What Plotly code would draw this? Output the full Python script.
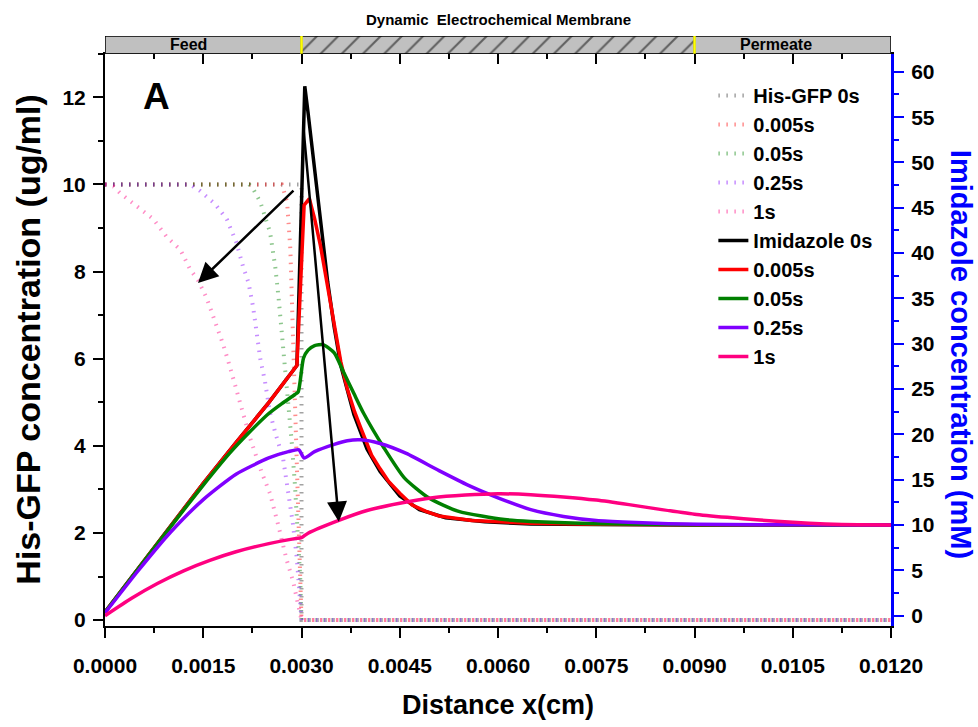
import plotly.graph_objects as go

# ---------------- data ----------------
# Imidazole concentration (mM), right axis
imid_0s_x = [0, 0.0005, 0.001, 0.0015, 0.002, 0.0025, 0.00293, 0.00305, 0.0031, 0.0032, 0.0033, 0.0034,
             0.0035, 0.0036, 0.0038, 0.004, 0.0042, 0.0045, 0.0048, 0.0052, 0.0058, 0.0065, 0.0075, 0.009, 0.012]
imid_0s_y = [0.4, 5.1, 9.9, 14.6, 19.1, 23.5, 27.6, 58.4, 55.5, 49.0, 42.5, 36.8,
             31.8, 27.6, 22.2, 18.4, 15.9, 13.2, 11.7, 10.8, 10.35, 10.12, 10.05, 10.0, 10.0]

imid_0005_x = [0, 0.0005, 0.001, 0.0015, 0.002, 0.0025, 0.00293, 0.00304, 0.00312, 0.0032, 0.00329, 0.00337,
               0.00345, 0.00352, 0.0036, 0.0037, 0.00381, 0.0039, 0.004, 0.00407, 0.0042, 0.00433, 0.0045,
               0.00469, 0.0049, 0.0051, 0.0056, 0.0065, 0.0075, 0.009, 0.012]
imid_0005_y = [0.4, 5.1, 9.9, 14.6, 19.1, 23.5, 27.6, 45.3, 46.0, 43.8, 40.8, 37.4,
               34.2, 31.0, 28.0, 25.0, 22.5, 20.8, 19.0, 17.7, 16.2, 14.8, 13.5,
               12.2, 11.5, 11.0, 10.5, 10.2, 10.08, 10.02, 10.0]

imid_005_x = [0, 0.0005, 0.001, 0.0015, 0.0019, 0.0022, 0.0025, 0.0027, 0.0029, 0.00295, 0.00303, 0.0031,
              0.0032, 0.00333, 0.0035, 0.00364, 0.0038, 0.00395, 0.00426, 0.00457, 0.00494, 0.0054, 0.0061,
              0.0065, 0.0075, 0.009, 0.012]
imid_005_y = [0.4, 5.1, 9.8, 14.4, 17.9, 20.2, 22.3, 23.4, 24.4, 24.7, 28.4, 29.3,
              29.8, 29.9, 29.0, 26.9, 24.5, 22.3, 18.5, 15.2, 13.0, 11.5, 10.6,
              10.4, 10.15, 10.03, 10.0]

imid_025_x = [0, 0.0005, 0.001, 0.0015, 0.002, 0.0025, 0.0028, 0.00296, 0.00304, 0.0032, 0.0035, 0.0037,
              0.0039, 0.0042, 0.0046, 0.0051, 0.0056, 0.006, 0.0065, 0.007, 0.0075, 0.008, 0.0086, 0.0095,
              0.0105, 0.012]
imid_025_y = [0.3, 4.9, 9.2, 12.8, 15.6, 17.4, 18.1, 18.3, 17.4, 18.1, 18.9, 19.3,
              19.4, 19.0, 17.9, 16.0, 14.2, 13.0, 11.7, 10.95, 10.5, 10.3, 10.15, 10.05,
              10.02, 10.0]

imid_1_x = [0, 0.0004, 0.0008, 0.0012, 0.0016, 0.002, 0.0025, 0.0029, 0.003, 0.0031, 0.0036, 0.004,
            0.0045, 0.005, 0.0055, 0.006, 0.0065, 0.007, 0.0075, 0.008, 0.0085, 0.009, 0.0095, 0.010,
            0.0105, 0.011, 0.0115, 0.012]
imid_1_y = [0.0, 1.9, 3.55, 4.95, 6.1, 7.05, 7.95, 8.5, 8.6, 9.1, 10.6, 11.6,
            12.4, 13.0, 13.3, 13.45, 13.35, 13.1, 12.75, 12.25, 11.7, 11.2, 10.85, 10.55,
            10.3, 10.12, 10.03, 10.0]

# His-GFP concentration (ug/ml), left axis
gfp_0s_x = [0, 0.003, 0.003, 0.012]
gfp_0s_y = [10, 10, 0, 0]

gfp_0005_x = [0, 0.0027, 0.00278, 0.00283, 0.00287, 0.0029, 0.00294, 0.00297, 0.003, 0.012]
gfp_0005_y = [10, 10, 9.6, 8.5, 6.5, 5.0, 3.2, 1.6, 0, 0]

gfp_005_x = [0, 0.0022, 0.00226, 0.00237, 0.00252, 0.0026, 0.00265, 0.0027, 0.00275, 0.0028, 0.00285,
             0.0029, 0.00294, 0.00298, 0.003, 0.012]
gfp_005_y = [10, 10, 9.9, 9.6, 8.9, 8.1, 7.4, 6.6, 5.9, 5.0, 4.1,
             3.1, 2.1, 1.0, 0, 0]

gfp_025_x = [0, 0.0013, 0.00145, 0.00168, 0.00186, 0.00201, 0.00211, 0.00219, 0.00226, 0.00232, 0.00237,
             0.00244, 0.00252, 0.0026, 0.00272, 0.0028, 0.00287, 0.00293, 0.00298, 0.003, 0.012]
gfp_025_y = [10, 10, 9.85, 9.55, 9.2, 8.65, 8.1, 7.75, 7.2, 6.6, 6.0,
             5.5, 4.75, 4.3, 3.7, 2.9, 2.2, 1.4, 0.5, 0, 0]

gfp_1_x = [0, 0.00013, 0.00023, 0.00048, 0.00074, 0.00094, 0.00115, 0.0013, 0.00142, 0.00155, 0.00168,
           0.00181, 0.00191, 0.00201, 0.00211, 0.00221, 0.00239, 0.00252, 0.00265, 0.00277, 0.00287,
           0.00298, 0.003, 0.012]
gfp_1_y = [10, 9.95, 9.8, 9.5, 9.2, 8.8, 8.5, 8.05, 7.8, 7.4, 6.85,
           6.3, 5.8, 5.25, 4.75, 4.2, 3.4, 2.9, 2.15, 1.4, 0.9,
           0.2, 0, 0]

gfp_names = ["His-GFP 0s", "0.005s", "0.05s", "0.25s", "1s"]
imid_names = ["Imidazole 0s", "0.005s", "0.05s", "0.25s", "1s"]

# axis titles
x_title = "Distance x(cm)"
y_left_title = "His-GFP concentration (ug/ml)"
y_right_title = "Imidazole concentration (mM)"

# membrane band regions
band_starts = [0, 0.003, 0.009]
band_widths = [0.003, 0.006, 0.003]
band_patterns = ["", "/", ""]
band_labels = ["Feed", "Permeate"]
band_label_x = [0.00128, 0.01024]
band_edges = [0.003, 0.009]

# ---------------- figure ----------------
FONT = "Liberation Sans, Arial, sans-serif"

gfp_colors = ["rgba(100,100,100,0.6)", "rgba(255,0,0,0.45)", "rgba(0,128,0,0.45)",
              "rgba(128,0,255,0.45)", "rgba(255,0,128,0.45)"]
imid_colors = ["#000000", "#FF0000", "#008000", "#8000FF", "#FF0080"]
imid_shapes = ["linear", "linear", "spline", "spline", "spline"]

fig = go.Figure()

gfp_sets = [(gfp_0s_x, gfp_0s_y), (gfp_0005_x, gfp_0005_y), (gfp_005_x, gfp_005_y),
            (gfp_025_x, gfp_025_y), (gfp_1_x, gfp_1_y)]
for (xs, ys), name, col in zip(gfp_sets, gfp_names, gfp_colors):
    fig.add_trace(go.Scatter(x=xs, y=ys, mode="lines", name=name,
                             line=dict(color=col, width=4, dash="1.5px,6.5px"),
                             xaxis="x", yaxis="y", hoverinfo="skip"))

imid_sets = [(imid_0s_x, imid_0s_y), (imid_0005_x, imid_0005_y), (imid_005_x, imid_005_y),
             (imid_025_x, imid_025_y), (imid_1_x, imid_1_y)]
for (xs, ys), name, col, shp in zip(imid_sets, imid_names, imid_colors, imid_shapes):
    fig.add_trace(go.Scatter(x=xs, y=ys, mode="lines", name=name,
                             line=dict(color=col, width=3.5, shape=shp, smoothing=0.6),
                             xaxis="x", yaxis="y2", hoverinfo="skip"))

# band on top
fig.add_trace(go.Bar(y=[0] * len(band_starts), x=band_widths, base=band_starts, orientation="h",
                     width=1, xaxis="x", yaxis="y3", showlegend=False, hoverinfo="skip",
                     marker=dict(color="#C0C0C0", line=dict(color="black", width=1.5),
                                 pattern=dict(shape=band_patterns, fgcolor="black", size=15,
                                              solidity=0.14, fillmode="overlay"))))

# top mirror axis carrier
fig.add_trace(go.Scatter(x=[], y=[], xaxis="x2", yaxis="y", showlegend=False))

tickfont = dict(family=FONT, size=21, color="black", weight="bold")
titlefont = dict(family=FONT, size=27, color="black", weight="bold")

fig.update_layout(
    width=978, height=727, autosize=False,
    margin=dict(l=105, r=87, t=36, b=91),
    paper_bgcolor="white", plot_bgcolor="white",
    barmode="overlay",
    showlegend=True,
    legend=dict(x=0.774, y=0.932, xanchor="left", yanchor="top", bgcolor="rgba(0,0,0,0)",
                font=dict(family=FONT, size=20, color="black", weight="bold"),
                tracegroupgap=0),
    xaxis=dict(domain=[0, 1], range=[0, 0.012], anchor="y", tickformat=".4f", tick0=0, dtick=0.0015,
               ticks="outside", ticklen=10, tickwidth=2, tickcolor="black",
               showline=True, linewidth=2, linecolor="black", showgrid=False, zeroline=False,
               minor=dict(dtick=0.00075, tick0=0, ticks="outside", ticklen=5, tickwidth=2, tickcolor="black"),
               tickfont=tickfont, ticklabelstandoff=10,
               title=dict(text=x_title, font=titlefont, standoff=19)),
    xaxis2=dict(overlaying="x", side="top", anchor="y", range=[0, 0.012], tick0=0, dtick=0.0015,
                ticks="inside", ticklen=10, tickwidth=2, tickcolor="black", showticklabels=False,
                showline=True, linewidth=2, linecolor="black", showgrid=False, zeroline=False,
                minor=dict(dtick=0.00075, tick0=0, ticks="inside", ticklen=5, tickwidth=2, tickcolor="black")),
    yaxis=dict(domain=[0, 0.97], range=[-0.135, 13.0], anchor="x", tick0=0, dtick=2,
               ticks="outside", ticklen=10, tickwidth=2, tickcolor="black",
               showline=True, linewidth=2, linecolor="black", showgrid=False, zeroline=False,
               minor=dict(dtick=1, tick0=0, ticks="outside", ticklen=5, tickwidth=2, tickcolor="black"),
               tickfont=tickfont, ticklabelstandoff=3),
    yaxis2=dict(overlaying="y", side="right", anchor="x", range=[-1.14, 62.0], tick0=0, dtick=5,
                ticks="outside", ticklen=10, tickwidth=2, tickcolor="blue",
                showline=True, linewidth=3, linecolor="blue", showgrid=False, zeroline=False,
                minor=dict(dtick=2.5, tick0=0, ticks="outside", ticklen=5, tickwidth=2, tickcolor="blue"),
                tickfont=tickfont, ticklabelstandoff=3),
    yaxis3=dict(domain=[0.97, 1.0], range=[-0.5, 0.5], anchor="x", visible=False, fixedrange=True),
)

# y-axis titles (right one reads top-to-bottom as in the original)
fig.add_annotation(x=-0.098, y=0.487, xref="paper", yref="paper", text=y_left_title, textangle=-90,
                   showarrow=False, xanchor="center", yanchor="middle",
                   font=dict(family=FONT, size=34, color="black", weight="bold"))
fig.add_annotation(x=1.09, y=0.46, xref="paper", yref="paper", text=y_right_title, textangle=90,
                   showarrow=False, xanchor="center", yanchor="middle",
                   font=dict(family=FONT, size=29, color="blue", weight="bold"))

# yellow membrane edges in the band
for xe in band_edges:
    fig.add_shape(type="line", x0=xe, x1=xe, xref="x", y0=0, y1=1, yref="y3 domain",
                  line=dict(color="#FFFF00", width=2.5), layer="above")

for lab, lx in zip(band_labels, band_label_x):
    fig.add_annotation(x=lx, y=0, xref="x", yref="y3", text=lab, showarrow=False,
                       xanchor="center", yanchor="middle",
                       font=dict(family=FONT, size=16, color="black", weight="bold"))

fig.add_annotation(x=0.006, y=1.028, xref="x", yref="paper", text="Dynamic\u00a0 Electrochemical Membrane",
                   showarrow=False, xanchor="center", yanchor="middle",
                   font=dict(family=FONT, size=15, color="black", weight="bold"))

fig.add_annotation(x=0.066, y=0.898, xref="paper", yref="paper", text="A", showarrow=False,
                   xanchor="center", yanchor="middle",
                   font=dict(family=FONT, size=37, color="black", weight="bold"))

# arrows
fig.add_annotation(x=0.00142, y=7.74, ax=0.0029, ay=9.89, xref="x", yref="y", axref="x", ayref="y",
                   text="", showarrow=True, arrowhead=2, arrowsize=1.6, arrowwidth=2.5, arrowcolor="black")
fig.add_annotation(x=0.00357, y=2.26, ax=0.00303, ay=11.3, xref="x", yref="y", axref="x", ayref="y",
                   text="", showarrow=True, arrowhead=2, arrowsize=1.6, arrowwidth=2.5, arrowcolor="black")

# remove the default page margin so the 978x727 figure fills the window exactly
fig.write_html("out.html", config={"displayModeBar": False},
               post_script="document.body.style.margin='0px';document.body.style.padding='0px';")
